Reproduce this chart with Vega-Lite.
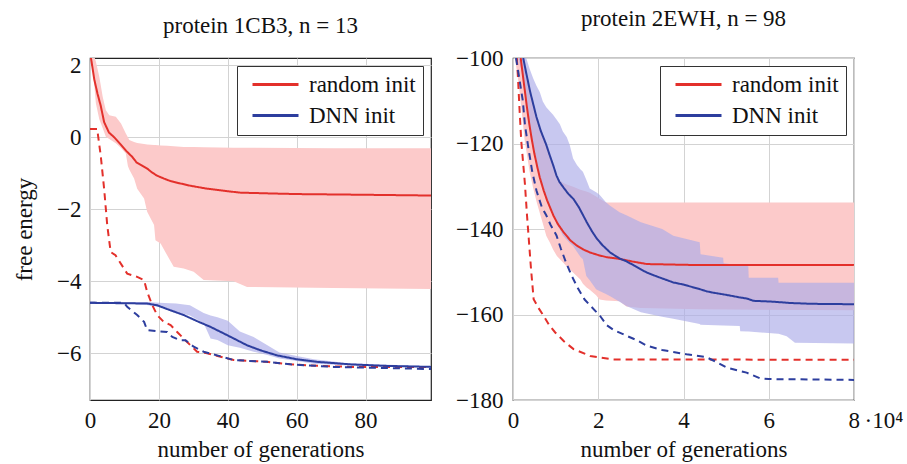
{
  "$schema": "https://vega.github.io/schema/vega-lite/v6.json",
  "padding": {"left": 12, "top": 7, "right": 0, "bottom": 0},
  "spacing": 22,
  "config": {
    "font": "Liberation Serif, DejaVu Serif, serif",
    "view": {"stroke": "#222", "strokeWidth": 1.2},
    "axis": {"labelFont": "Liberation Serif, DejaVu Serif, serif", "labelFontSize": 23, "labelColor": "#111", "titleFont": "Liberation Serif, DejaVu Serif, serif", "titleFontSize": 23, "titleFontWeight": "normal", "titleColor": "#111", "grid": true, "gridColor": "#d3d3d3", "gridWidth": 1, "domain": false, "ticks": false, "labelPadding": 9, "labelFlush": false},
    "axisX": {"titlePadding": 6},
    "axisY": {"titlePadding": 20},
    "title": {"font": "Liberation Serif, DejaVu Serif, serif", "fontSize": 23, "fontWeight": "normal", "color": "#111", "offset": 16},
    "legend": {"orient": "top-right", "offset": 8, "padding": 7, "strokeColor": "#333", "fillColor": "white", "cornerRadius": 0, "symbolType": "M-2.3,0H2.3", "symbolSize": 400, "symbolStrokeWidth": 3, "symbolOffset": 20, "labelFont": "Liberation Serif, DejaVu Serif, serif", "labelFontSize": 23, "labelColor": "#111", "rowPadding": 7, "labelOffset": 22}
  },
  "datasets": {
    "L_lines": [
      {"g":0,"e":2.6,"init":"random init","kind":"mean"},{"g":0.3,"e":2.19,"init":"random init","kind":"mean"},{"g":1.25,"e":1.6,"init":"random init","kind":"mean"},{"g":2.2,"e":1.2,"init":"random init","kind":"mean"},{"g":3.1,"e":0.88,"init":"random init","kind":"mean"},{"g":4.1,"e":0.42,"init":"random init","kind":"mean"},{"g":5.5,"e":0.13,"init":"random init","kind":"mean"},{"g":7,"e":0.0,"init":"random init","kind":"mean"},{"g":8.9,"e":-0.2,"init":"random init","kind":"mean"},{"g":10.5,"e":-0.38,"init":"random init","kind":"mean"},{"g":12.3,"e":-0.55,"init":"random init","kind":"mean"},{"g":13.5,"e":-0.7,"init":"random init","kind":"mean"},{"g":15,"e":-0.78,"init":"random init","kind":"mean"},{"g":16.6,"e":-0.87,"init":"random init","kind":"mean"},{"g":18,"e":-0.98,"init":"random init","kind":"mean"},{"g":19.5,"e":-1.07,"init":"random init","kind":"mean"},{"g":21.5,"e":-1.15,"init":"random init","kind":"mean"},{"g":23.4,"e":-1.22,"init":"random init","kind":"mean"},{"g":26,"e":-1.28,"init":"random init","kind":"mean"},{"g":29.2,"e":-1.35,"init":"random init","kind":"mean"},{"g":34,"e":-1.43,"init":"random init","kind":"mean"},{"g":39.8,"e":-1.5,"init":"random init","kind":"mean"},{"g":43.7,"e":-1.54,"init":"random init","kind":"mean"},{"g":51.4,"e":-1.56,"init":"random init","kind":"mean"},{"g":60.1,"e":-1.58,"init":"random init","kind":"mean"},{"g":70.7,"e":-1.59,"init":"random init","kind":"mean"},{"g":80.4,"e":-1.6,"init":"random init","kind":"mean"},{"g":99,"e":-1.62,"init":"random init","kind":"mean"},
      {"g":0,"e":0.23,"init":"random init","kind":"best"},{"g":2.1,"e":0.23,"init":"random init","kind":"best"},{"g":2.4,"e":0.0,"init":"random init","kind":"best"},{"g":3.1,"e":-0.5,"init":"random init","kind":"best"},{"g":4.1,"e":-1.43,"init":"random init","kind":"best"},{"g":5.0,"e":-2.44,"init":"random init","kind":"best"},{"g":6.0,"e":-3.19,"init":"random init","kind":"best"},{"g":7.4,"e":-3.28,"init":"random init","kind":"best"},{"g":10.8,"e":-3.79,"init":"random init","kind":"best"},{"g":13.7,"e":-3.88,"init":"random init","kind":"best"},{"g":15.7,"e":-3.97,"init":"random init","kind":"best"},{"g":16.6,"e":-4.3,"init":"random init","kind":"best"},{"g":18.1,"e":-4.67,"init":"random init","kind":"best"},{"g":19.5,"e":-4.94,"init":"random init","kind":"best"},{"g":21.4,"e":-5.13,"init":"random init","kind":"best"},{"g":23.4,"e":-5.22,"init":"random init","kind":"best"},{"g":25.3,"e":-5.41,"init":"random init","kind":"best"},{"g":28.2,"e":-5.69,"init":"random init","kind":"best"},{"g":31.1,"e":-5.96,"init":"random init","kind":"best"},{"g":34,"e":-6.0,"init":"random init","kind":"best"},{"g":37.9,"e":-6.1,"init":"random init","kind":"best"},{"g":41.7,"e":-6.19,"init":"random init","kind":"best"},{"g":51.4,"e":-6.24,"init":"random init","kind":"best"},{"g":58.2,"e":-6.31,"init":"random init","kind":"best"},{"g":65.9,"e":-6.35,"init":"random init","kind":"best"},{"g":75.6,"e":-6.38,"init":"random init","kind":"best"},{"g":99,"e":-6.38,"init":"random init","kind":"best"},
      {"g":0,"e":-4.6,"init":"DNN init","kind":"mean"},{"g":16.6,"e":-4.62,"init":"DNN init","kind":"mean"},{"g":19.5,"e":-4.67,"init":"DNN init","kind":"mean"},{"g":23.4,"e":-4.81,"init":"DNN init","kind":"mean"},{"g":27.2,"e":-4.94,"init":"DNN init","kind":"mean"},{"g":31.1,"e":-5.11,"init":"DNN init","kind":"mean"},{"g":35,"e":-5.27,"init":"DNN init","kind":"mean"},{"g":38.8,"e":-5.45,"init":"DNN init","kind":"mean"},{"g":41.7,"e":-5.59,"init":"DNN init","kind":"mean"},{"g":45.6,"e":-5.78,"init":"DNN init","kind":"mean"},{"g":49.5,"e":-5.92,"init":"DNN init","kind":"mean"},{"g":54.3,"e":-6.06,"init":"DNN init","kind":"mean"},{"g":60.1,"e":-6.17,"init":"DNN init","kind":"mean"},{"g":65.9,"e":-6.24,"init":"DNN init","kind":"mean"},{"g":75.6,"e":-6.31,"init":"DNN init","kind":"mean"},{"g":85.2,"e":-6.35,"init":"DNN init","kind":"mean"},{"g":99,"e":-6.38,"init":"DNN init","kind":"mean"},
      {"g":0,"e":-4.6,"init":"DNN init","kind":"best"},{"g":9.9,"e":-4.6,"init":"DNN init","kind":"best"},{"g":10.8,"e":-4.71,"init":"DNN init","kind":"best"},{"g":13.7,"e":-4.94,"init":"DNN init","kind":"best"},{"g":15.7,"e":-5.13,"init":"DNN init","kind":"best"},{"g":16.6,"e":-5.36,"init":"DNN init","kind":"best"},{"g":19.5,"e":-5.39,"init":"DNN init","kind":"best"},{"g":22.4,"e":-5.41,"init":"DNN init","kind":"best"},{"g":23.9,"e":-5.55,"init":"DNN init","kind":"best"},{"g":26.2,"e":-5.64,"init":"DNN init","kind":"best"},{"g":27.7,"e":-5.64,"init":"DNN init","kind":"best"},{"g":30.1,"e":-5.82,"init":"DNN init","kind":"best"},{"g":33,"e":-5.96,"init":"DNN init","kind":"best"},{"g":36.9,"e":-6.06,"init":"DNN init","kind":"best"},{"g":41.7,"e":-6.19,"init":"DNN init","kind":"best"},{"g":51.4,"e":-6.24,"init":"DNN init","kind":"best"},{"g":58.2,"e":-6.31,"init":"DNN init","kind":"best"},{"g":70.7,"e":-6.38,"init":"DNN init","kind":"best"},{"g":85.2,"e":-6.41,"init":"DNN init","kind":"best"},{"g":99,"e":-6.44,"init":"DNN init","kind":"best"}
    ],
    "L_bands": [
      {"g":0,"lo":2.4,"hi":2.6,"init":"random init"},{"g":0.8,"lo":1.96,"hi":2.4,"init":"random init"},{"g":1.7,"lo":0.94,"hi":2.1,"init":"random init"},{"g":2.7,"lo":0.5,"hi":1.68,"init":"random init"},{"g":3.7,"lo":0.25,"hi":1.12,"init":"random init"},{"g":4.6,"lo":0.01,"hi":0.75,"init":"random init"},{"g":5.6,"lo":-0.05,"hi":0.61,"init":"random init"},{"g":7.5,"lo":-0.17,"hi":0.57,"init":"random init"},{"g":9,"lo":-0.3,"hi":0.38,"init":"random init"},{"g":10.4,"lo":-0.45,"hi":0.1,"init":"random init"},{"g":11,"lo":-0.8,"hi":0.0,"init":"random init"},{"g":11.4,"lo":-0.9,"hi":-0.08,"init":"random init"},{"g":12.8,"lo":-1.15,"hi":-0.13,"init":"random init"},{"g":13.7,"lo":-1.43,"hi":-0.16,"init":"random init"},{"g":15.7,"lo":-1.7,"hi":-0.19,"init":"random init"},{"g":16.6,"lo":-2.07,"hi":-0.2,"init":"random init"},{"g":18.6,"lo":-2.44,"hi":-0.22,"init":"random init"},{"g":19.0,"lo":-2.86,"hi":-0.22,"init":"random init"},{"g":20.5,"lo":-2.95,"hi":-0.23,"init":"random init"},{"g":22.4,"lo":-3.28,"hi":-0.24,"init":"random init"},{"g":24.3,"lo":-3.6,"hi":-0.25,"init":"random init"},{"g":27.2,"lo":-3.65,"hi":-0.27,"init":"random init"},{"g":30.1,"lo":-3.74,"hi":-0.27,"init":"random init"},{"g":33.0,"lo":-3.97,"hi":-0.28,"init":"random init"},{"g":41.7,"lo":-4.0,"hi":-0.29,"init":"random init"},{"g":45.6,"lo":-4.16,"hi":-0.29,"init":"random init"},{"g":70.7,"lo":-4.19,"hi":-0.31,"init":"random init"},{"g":99,"lo":-4.22,"hi":-0.31,"init":"random init"},
      {"g":0,"lo":-4.62,"hi":-4.58,"init":"DNN init"},{"g":10,"lo":-4.62,"hi":-4.58,"init":"DNN init"},{"g":16.5,"lo":-4.66,"hi":-4.58,"init":"DNN init"},{"g":20,"lo":-4.72,"hi":-4.6,"init":"DNN init"},{"g":25,"lo":-4.86,"hi":-4.62,"init":"DNN init"},{"g":29,"lo":-4.95,"hi":-4.67,"init":"DNN init"},{"g":33,"lo":-5.17,"hi":-4.88,"init":"DNN init"},{"g":35,"lo":-5.59,"hi":-4.95,"init":"DNN init"},{"g":37,"lo":-5.63,"hi":-5.0,"init":"DNN init"},{"g":40,"lo":-5.78,"hi":-5.1,"init":"DNN init"},{"g":43.5,"lo":-5.85,"hi":-5.4,"init":"DNN init"},{"g":47.5,"lo":-5.96,"hi":-5.55,"init":"DNN init"},{"g":51.5,"lo":-6.05,"hi":-5.78,"init":"DNN init"},{"g":55,"lo":-6.15,"hi":-5.98,"init":"DNN init"},{"g":60,"lo":-6.22,"hi":-6.08,"init":"DNN init"},{"g":65,"lo":-6.29,"hi":-6.17,"init":"DNN init"},{"g":75,"lo":-6.34,"hi":-6.28,"init":"DNN init"},{"g":99,"lo":-6.4,"hi":-6.36,"init":"DNN init"}
    ],
    "R_lines": [
      {"g":1800,"e":-100,"init":"random init","kind":"mean"},{"g":2500,"e":-105.5,"init":"random init","kind":"mean"},{"g":3200,"e":-111,"init":"random init","kind":"mean"},{"g":3800,"e":-115.3,"init":"random init","kind":"mean"},{"g":4400,"e":-119,"init":"random init","kind":"mean"},{"g":5000,"e":-122.3,"init":"random init","kind":"mean"},{"g":5700,"e":-125.5,"init":"random init","kind":"mean"},{"g":6300,"e":-128,"init":"random init","kind":"mean"},{"g":7200,"e":-131,"init":"random init","kind":"mean"},{"g":8000,"e":-133.3,"init":"random init","kind":"mean"},{"g":9500,"e":-136.9,"init":"random init","kind":"mean"},{"g":10500,"e":-138.8,"init":"random init","kind":"mean"},{"g":11900,"e":-140.8,"init":"random init","kind":"mean"},{"g":13500,"e":-142.7,"init":"random init","kind":"mean"},{"g":15000,"e":-143.9,"init":"random init","kind":"mean"},{"g":16500,"e":-144.8,"init":"random init","kind":"mean"},{"g":18100,"e":-145.5,"init":"random init","kind":"mean"},{"g":20000,"e":-146.1,"init":"random init","kind":"mean"},{"g":22000,"e":-146.6,"init":"random init","kind":"mean"},{"g":25000,"e":-147,"init":"random init","kind":"mean"},{"g":28000,"e":-147.6,"init":"random init","kind":"mean"},{"g":31400,"e":-148.2,"init":"random init","kind":"mean"},{"g":41500,"e":-148.4,"init":"random init","kind":"mean"},{"g":80000,"e":-148.4,"init":"random init","kind":"mean"},
      {"g":900,"e":-100,"init":"random init","kind":"best"},{"g":1170,"e":-104.7,"init":"random init","kind":"best"},{"g":1560,"e":-112.5,"init":"random init","kind":"best"},{"g":1950,"e":-119.6,"init":"random init","kind":"best"},{"g":2350,"e":-124.2,"init":"random init","kind":"best"},{"g":2800,"e":-129.5,"init":"random init","kind":"best"},{"g":3300,"e":-137,"init":"random init","kind":"best"},{"g":3700,"e":-142.3,"init":"random init","kind":"best"},{"g":4200,"e":-149,"init":"random init","kind":"best"},{"g":4840,"e":-156.4,"init":"random init","kind":"best"},{"g":6000,"e":-158.5,"init":"random init","kind":"best"},{"g":7180,"e":-160.3,"init":"random init","kind":"best"},{"g":8500,"e":-162.5,"init":"random init","kind":"best"},{"g":9900,"e":-164.2,"init":"random init","kind":"best"},{"g":12000,"e":-166.3,"init":"random init","kind":"best"},{"g":14200,"e":-168.1,"init":"random init","kind":"best"},{"g":18100,"e":-169.7,"init":"random init","kind":"best"},{"g":23600,"e":-170.5,"init":"random init","kind":"best"},{"g":80000,"e":-170.6,"init":"random init","kind":"best"},
      {"g":2400,"e":-100,"init":"DNN init","kind":"mean"},{"g":3100,"e":-103.5,"init":"DNN init","kind":"mean"},{"g":4000,"e":-107.8,"init":"DNN init","kind":"mean"},{"g":4800,"e":-111,"init":"DNN init","kind":"mean"},{"g":5500,"e":-113.8,"init":"DNN init","kind":"mean"},{"g":6500,"e":-117,"init":"DNN init","kind":"mean"},{"g":7800,"e":-120.3,"init":"DNN init","kind":"mean"},{"g":8600,"e":-122.7,"init":"DNN init","kind":"mean"},{"g":9400,"e":-125,"init":"DNN init","kind":"mean"},{"g":10200,"e":-127.5,"init":"DNN init","kind":"mean"},{"g":10900,"e":-129,"init":"DNN init","kind":"mean"},{"g":12000,"e":-130.5,"init":"DNN init","kind":"mean"},{"g":13000,"e":-131.8,"init":"DNN init","kind":"mean"},{"g":14200,"e":-133,"init":"DNN init","kind":"mean"},{"g":15500,"e":-135,"init":"DNN init","kind":"mean"},{"g":17300,"e":-138.4,"init":"DNN init","kind":"mean"},{"g":18500,"e":-140.5,"init":"DNN init","kind":"mean"},{"g":19700,"e":-142.3,"init":"DNN init","kind":"mean"},{"g":21000,"e":-143.8,"init":"DNN init","kind":"mean"},{"g":22800,"e":-145.5,"init":"DNN init","kind":"mean"},{"g":25000,"e":-146.9,"init":"DNN init","kind":"mean"},{"g":26700,"e":-147.6,"init":"DNN init","kind":"mean"},{"g":28500,"e":-148.6,"init":"DNN init","kind":"mean"},{"g":31400,"e":-150.2,"init":"DNN init","kind":"mean"},{"g":34000,"e":-151.2,"init":"DNN init","kind":"mean"},{"g":37600,"e":-152.5,"init":"DNN init","kind":"mean"},{"g":40000,"e":-153,"init":"DNN init","kind":"mean"},{"g":43900,"e":-154.1,"init":"DNN init","kind":"mean"},{"g":45500,"e":-154.6,"init":"DNN init","kind":"mean"},{"g":47000,"e":-154.9,"init":"DNN init","kind":"mean"},{"g":50000,"e":-155.4,"init":"DNN init","kind":"mean"},{"g":53200,"e":-156,"init":"DNN init","kind":"mean"},{"g":55000,"e":-156.3,"init":"DNN init","kind":"mean"},{"g":56400,"e":-156.8,"init":"DNN init","kind":"mean"},{"g":61000,"e":-157,"init":"DNN init","kind":"mean"},{"g":64900,"e":-157.3,"init":"DNN init","kind":"mean"},{"g":70000,"e":-157.5,"init":"DNN init","kind":"mean"},{"g":80000,"e":-157.6,"init":"DNN init","kind":"mean"},
      {"g":700,"e":-100,"init":"DNN init","kind":"best"},{"g":1200,"e":-103,"init":"DNN init","kind":"best"},{"g":2300,"e":-110,"init":"DNN init","kind":"best"},{"g":2800,"e":-115.6,"init":"DNN init","kind":"best"},{"g":3600,"e":-121,"init":"DNN init","kind":"best"},{"g":4500,"e":-126.5,"init":"DNN init","kind":"best"},{"g":5500,"e":-131,"init":"DNN init","kind":"best"},{"g":6800,"e":-135,"init":"DNN init","kind":"best"},{"g":7800,"e":-136.8,"init":"DNN init","kind":"best"},{"g":8800,"e":-139,"init":"DNN init","kind":"best"},{"g":10200,"e":-141.5,"init":"DNN init","kind":"best"},{"g":11200,"e":-144.5,"init":"DNN init","kind":"best"},{"g":12500,"e":-148,"init":"DNN init","kind":"best"},{"g":13800,"e":-151,"init":"DNN init","kind":"best"},{"g":15300,"e":-154,"init":"DNN init","kind":"best"},{"g":16800,"e":-156.5,"init":"DNN init","kind":"best"},{"g":18400,"e":-158.2,"init":"DNN init","kind":"best"},{"g":20400,"e":-160.3,"init":"DNN init","kind":"best"},{"g":22000,"e":-162.5,"init":"DNN init","kind":"best"},{"g":23600,"e":-163.6,"init":"DNN init","kind":"best"},{"g":26700,"e":-165,"init":"DNN init","kind":"best"},{"g":29000,"e":-166,"init":"DNN init","kind":"best"},{"g":31400,"e":-167.3,"init":"DNN init","kind":"best"},{"g":35000,"e":-168.3,"init":"DNN init","kind":"best"},{"g":40700,"e":-169.3,"init":"DNN init","kind":"best"},{"g":45400,"e":-170,"init":"DNN init","kind":"best"},{"g":47500,"e":-171,"init":"DNN init","kind":"best"},{"g":50100,"e":-172.4,"init":"DNN init","kind":"best"},{"g":54800,"e":-173.6,"init":"DNN init","kind":"best"},{"g":57900,"e":-174.9,"init":"DNN init","kind":"best"},{"g":60000,"e":-175.1,"init":"DNN init","kind":"best"},{"g":80000,"e":-175.3,"init":"DNN init","kind":"best"}
    ],
    "R_bands": [
      {"g":0,"lo":-97,"hi":-90,"init":"random init"},{"g":1200,"lo":-105,"hi":-96,"init":"random init"},{"g":2000,"lo":-112,"hi":-99,"init":"random init"},{"g":2700,"lo":-119,"hi":-102,"init":"random init"},{"g":3100,"lo":-121.5,"hi":-103.5,"init":"random init"},{"g":3900,"lo":-126.6,"hi":-107.5,"init":"random init"},{"g":4700,"lo":-130.3,"hi":-110.5,"init":"random init"},{"g":5500,"lo":-133.5,"hi":-113.5,"init":"random init"},{"g":6300,"lo":-136.3,"hi":-116,"init":"random init"},{"g":7000,"lo":-138.7,"hi":-118,"init":"random init"},{"g":7800,"lo":-141.6,"hi":-120,"init":"random init"},{"g":8700,"lo":-143.3,"hi":-123,"init":"random init"},{"g":9400,"lo":-144.8,"hi":-126,"init":"random init"},{"g":10300,"lo":-146.3,"hi":-128,"init":"random init"},{"g":11700,"lo":-147.8,"hi":-129.2,"init":"random init"},{"g":12600,"lo":-148.8,"hi":-129.6,"init":"random init"},{"g":14100,"lo":-150.2,"hi":-130.1,"init":"random init"},{"g":15800,"lo":-151.8,"hi":-130.8,"init":"random init"},{"g":16400,"lo":-152.8,"hi":-131,"init":"random init"},{"g":17200,"lo":-153.6,"hi":-131.2,"init":"random init"},{"g":18000,"lo":-154.2,"hi":-131.5,"init":"random init"},{"g":19500,"lo":-155.5,"hi":-132.4,"init":"random init"},{"g":20300,"lo":-156.5,"hi":-132.9,"init":"random init"},{"g":21800,"lo":-156.7,"hi":-133.8,"init":"random init"},{"g":25000,"lo":-156.9,"hi":-133.8,"init":"random init"},{"g":26600,"lo":-158.1,"hi":-133.8,"init":"random init"},{"g":30000,"lo":-158.5,"hi":-133.8,"init":"random init"},{"g":44000,"lo":-158.8,"hi":-133.8,"init":"random init"},{"g":80000,"lo":-159,"hi":-133.8,"init":"random init"},
      {"g":0,"lo":-90,"hi":-80,"init":"DNN init"},{"g":1200,"lo":-100,"hi":-90,"init":"DNN init"},{"g":2000,"lo":-103,"hi":-94,"init":"DNN init"},{"g":2700,"lo":-108,"hi":-97.5,"init":"DNN init"},{"g":3100,"lo":-111,"hi":-100,"init":"DNN init"},{"g":3900,"lo":-117,"hi":-102.5,"init":"DNN init"},{"g":4700,"lo":-121.5,"hi":-104.7,"init":"DNN init"},{"g":5500,"lo":-125,"hi":-106.5,"init":"DNN init"},{"g":6300,"lo":-128.5,"hi":-108,"init":"DNN init"},{"g":7000,"lo":-131,"hi":-110.2,"init":"DNN init"},{"g":7800,"lo":-133,"hi":-111.5,"init":"DNN init"},{"g":8700,"lo":-135,"hi":-112.5,"init":"DNN init"},{"g":9400,"lo":-136.5,"hi":-113.3,"init":"DNN init"},{"g":10300,"lo":-139,"hi":-114.5,"init":"DNN init"},{"g":11000,"lo":-140.1,"hi":-115.5,"init":"DNN init"},{"g":11700,"lo":-141.5,"hi":-117.2,"init":"DNN init"},{"g":12600,"lo":-142.5,"hi":-118.5,"init":"DNN init"},{"g":13300,"lo":-143.3,"hi":-120.3,"init":"DNN init"},{"g":14100,"lo":-144,"hi":-123.5,"init":"DNN init"},{"g":15000,"lo":-145.3,"hi":-125,"init":"DNN init"},{"g":15800,"lo":-146.5,"hi":-126,"init":"DNN init"},{"g":16400,"lo":-147.1,"hi":-126.6,"init":"DNN init"},{"g":17200,"lo":-151,"hi":-128.5,"init":"DNN init"},{"g":18000,"lo":-152,"hi":-130.5,"init":"DNN init"},{"g":19500,"lo":-154.1,"hi":-131.4,"init":"DNN init"},{"g":20300,"lo":-154.5,"hi":-132,"init":"DNN init"},{"g":21800,"lo":-155.2,"hi":-133.75,"init":"DNN init"},{"g":22700,"lo":-155.7,"hi":-134.5,"init":"DNN init"},{"g":25000,"lo":-157,"hi":-136.1,"init":"DNN init"},{"g":26600,"lo":-158,"hi":-136.8,"init":"DNN init"},{"g":30000,"lo":-159.5,"hi":-138.4,"init":"DNN init"},{"g":35000,"lo":-160.5,"hi":-140,"init":"DNN init"},{"g":37600,"lo":-161,"hi":-141.6,"init":"DNN init"},{"g":43800,"lo":-162.2,"hi":-143.1,"init":"DNN init"},{"g":44000,"lo":-162.4,"hi":-145.9,"init":"DNN init"},{"g":49300,"lo":-162.6,"hi":-146.7,"init":"DNN init"},{"g":49400,"lo":-162.6,"hi":-148,"init":"DNN init"},{"g":53200,"lo":-162.7,"hi":-148.5,"init":"DNN init"},{"g":53300,"lo":-163.9,"hi":-148.5,"init":"DNN init"},{"g":55200,"lo":-164,"hi":-148.7,"init":"DNN init"},{"g":55300,"lo":-164,"hi":-151.4,"init":"DNN init"},{"g":62200,"lo":-164.5,"hi":-151.4,"init":"DNN init"},{"g":62300,"lo":-164.5,"hi":-152.6,"init":"DNN init"},{"g":64200,"lo":-165.1,"hi":-152.6,"init":"DNN init"},{"g":66150,"lo":-166.6,"hi":-152.6,"init":"DNN init"},{"g":80000,"lo":-166.8,"hi":-152.6,"init":"DNN init"}
    ]
  },
  "hconcat": [
    {
      "title": "protein 1CB3, n = 13",
      "width": 341,
      "height": 342,
      "layer": [
        {
          "data": {"name": "L_bands"},
          "transform": [{"filter": "datum.init == 'random init'"}],
          "mark": {"type": "area", "color": "#fccaca", "clip": true},
          "encoding": {
            "x": {"field": "g", "type": "quantitative", "scale": {"domain": [0, 99], "nice": false}, "axis": {"values": [0, 20, 40, 60, 80], "title": "number of generations"}},
            "y": {"field": "lo", "type": "quantitative", "scale": {"domain": [-7.3, 2.2], "nice": false, "zero": false}, "axis": {"values": [-6, -4, -2, 0, 2], "title": "free energy"}},
            "y2": {"field": "hi"}
          }
        },
        {
          "data": {"name": "L_bands"},
          "transform": [{"filter": "datum.init == 'DNN init'"}],
          "mark": {"type": "area", "color": "#aaaae8", "opacity": 0.65, "clip": true},
          "encoding": {
            "x": {"field": "g", "type": "quantitative"},
            "y": {"field": "lo", "type": "quantitative"},
            "y2": {"field": "hi"}
          }
        },
        {
          "data": {"name": "L_lines"},
          "mark": {"type": "line", "strokeWidth": 2, "clip": true},
          "encoding": {
            "x": {"field": "g", "type": "quantitative"},
            "y": {"field": "e", "type": "quantitative"},
            "stroke": {"field": "init", "type": "nominal", "scale": {"domain": ["random init", "DNN init"], "range": ["#e3302b", "#2d3e9e"]}, "legend": {"title": null}},
            "strokeDash": {"field": "kind", "type": "nominal", "scale": {"domain": ["mean", "best"], "range": [[1, 0], [7, 5]]}, "legend": null}
          }
        }
      ]
    },
    {
      "title": "protein 2EWH, n = 98",
      "width": 341,
      "height": 342,
      "layer": [
        {
          "data": {"name": "R_bands"},
          "transform": [{"filter": "datum.init == 'random init'"}],
          "mark": {"type": "area", "color": "#fccaca", "clip": true},
          "encoding": {
            "x": {"field": "g", "type": "quantitative", "scale": {"domain": [0, 80000], "nice": false}, "axis": {"values": [0, 20000, 40000, 60000, 80000], "title": "number of generations", "labelExpr": "datum.value == 80000 ? '8\u2009·10⁴' : format(datum.value / 10000, 'd')", "labelAlign": {"condition": {"test": "datum.value == 80000", "value": "left"}, "value": "center"}, "labelOffset": {"condition": {"test": "datum.value == 80000", "value": -6}, "value": 0}}},
            "y": {"field": "lo", "type": "quantitative", "scale": {"domain": [-180, -100], "nice": false, "zero": false}, "axis": {"values": [-180, -160, -140, -120, -100], "title": null, "labelPadding": 10}},
            "y2": {"field": "hi"}
          }
        },
        {
          "data": {"name": "R_bands"},
          "transform": [{"filter": "datum.init == 'DNN init'"}],
          "mark": {"type": "area", "color": "#aaaae8", "opacity": 0.65, "clip": true},
          "encoding": {
            "x": {"field": "g", "type": "quantitative"},
            "y": {"field": "lo", "type": "quantitative"},
            "y2": {"field": "hi"}
          }
        },
        {
          "data": {"name": "R_lines"},
          "mark": {"type": "line", "strokeWidth": 2, "clip": true},
          "encoding": {
            "x": {"field": "g", "type": "quantitative"},
            "y": {"field": "e", "type": "quantitative"},
            "stroke": {"field": "init", "type": "nominal", "scale": {"domain": ["random init", "DNN init"], "range": ["#e3302b", "#2d3e9e"]}, "legend": {"title": null}},
            "strokeDash": {"field": "kind", "type": "nominal", "scale": {"domain": ["mean", "best"], "range": [[1, 0], [7, 5]]}, "legend": null}
          }
        }
      ]
    }
  ],
  "resolve": {"scale": {"stroke": "independent", "strokeDash": "independent"}, "legend": {"stroke": "independent"}}
}
